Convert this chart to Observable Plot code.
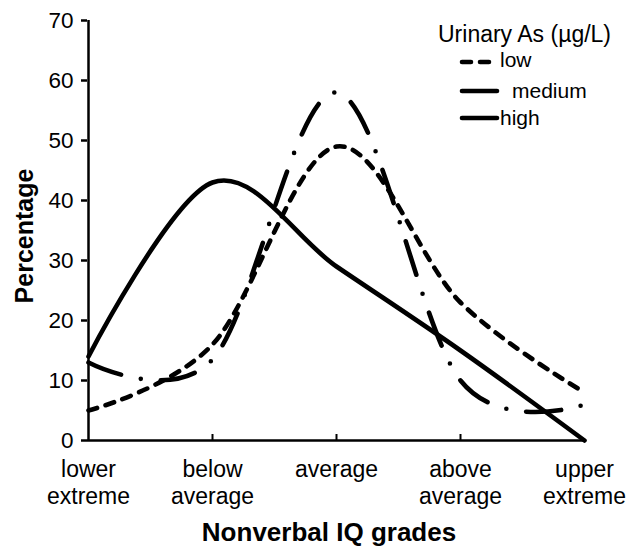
<!DOCTYPE html>
<html>
<head>
<meta charset="utf-8">
<script src="https://cdn.jsdelivr.net/npm/d3@7"></script>
<script src="https://cdn.jsdelivr.net/npm/@observablehq/plot@0.6"></script>
<style>
  html, body { margin: 0; padding: 0; background: #fff; }
  #wrap { position: relative; width: 630px; height: 547px; overflow: hidden; }
  #legend { position: absolute; left: 0; top: 0; pointer-events: none; }
</style>
</head>
<body>
<div id="wrap"></div>
<script>
// ---- data ----
const categories = ["lower extreme", "below average", "average", "above average", "upper extreme"];
const low    = [5, 16, 49, 23, 8];
const medium = [13, 13.5, 58, 10, 6];
const high   = [14, 43, 29, 15, 0];
const seriesNames = ["low", "medium", "high"];
const yTicks = [0, 10, 20, 30, 40, 50, 60, 70];
const legendTitle = "Urinary As (µg/L)";
const xTitle = "Nonverbal IQ grades";
const yTitle = "Percentage";

// ---- styles ----
const dashes = {low: "9,9", medium: "35,20,0,20", high: null};
const FONT = "'Liberation Sans', Arial, Helvetica, sans-serif";

const valuesBy = {low, medium, high};
const rows = seriesNames.flatMap(s => categories.map((c, i) => ({grade: c, pct: valuesBy[s][i], group: s})));

const lineMark = s => Plot.line(rows.filter(d => d.group === s), {
  x: "grade", y: "pct", curve: "cardinal", stroke: "black", strokeWidth: 4.6,
  strokeDasharray: dashes[s] || undefined, strokeLinecap: "round", strokeLinejoin: "round"
});

const chart = Plot.plot({
  width: 630, height: 547,
  marginLeft: 87, marginRight: 46, marginTop: 20, marginBottom: 107,
  style: {fontFamily: FONT, fontSize: "22px", color: "black", background: "white"},
  x: {type: "point", domain: categories, padding: 0, axis: null},
  y: {domain: [0, 70], axis: null},
  marks: [
    Plot.axisY({ticks: yTicks, tickSize: 6, tickPadding: 8, fontSize: 22.5, label: null, strokeWidth: 2.5}),
    Plot.ruleX(categories.slice(1, 4), {y1: 0, y2: 1, stroke: "black", strokeWidth: 2}),
    lineMark("low"),
    lineMark("medium"),
    lineMark("high"),
    Plot.ruleY([0], {stroke: "black", strokeWidth: 2.5}),
    Plot.ruleX([categories[0]], {stroke: "black", strokeWidth: 2.5}),
    Plot.text(categories, {x: d => d, text: d => d.replace(" ", "\n"), frameAnchor: "bottom",
      lineAnchor: "top", lineHeight: 1.14, dy: 18.2, fontSize: 23, fill: "black"}),
    Plot.text([xTitle], {frameAnchor: "bottom", lineAnchor: "bottom", dy: 100, dx: -7,
      fontSize: 26, fontWeight: "bold", fill: "black"})
  ]
});
document.getElementById("wrap").appendChild(chart);

// ---- overlay: y title and legend ----
const lg = d3.select("#wrap").append("svg").attr("id", "legend")
  .attr("width", 630).attr("height", 547)
  .style("font-family", FONT);
lg.append("text").attr("transform", "translate(33,236) rotate(-90)")
  .attr("text-anchor", "middle").attr("font-size", 25).attr("font-weight", "bold").text(yTitle);
lg.append("text").attr("x", 438).attr("y", 42).attr("font-size", 23).text(legendTitle);
const legendRows = [
  {name: "low", y: 62, tx: 500, ty: 67},
  {name: "medium", y: 91, tx: 512, ty: 98},
  {name: "high", y: 118, tx: 500, ty: 125}
];
legendRows.forEach(r => {
  lg.append("line").attr("x1", 462).attr("x2", 497).attr("y1", r.y).attr("y2", r.y)
    .attr("stroke", "black").attr("stroke-width", 4.6).attr("stroke-linecap", "round")
    .attr("stroke-dasharray", dashes[r.name] || null);
  lg.append("text").attr("x", r.tx).attr("y", r.ty).attr("font-size", 21).text(r.name);
});
</script>
</body>
</html>
